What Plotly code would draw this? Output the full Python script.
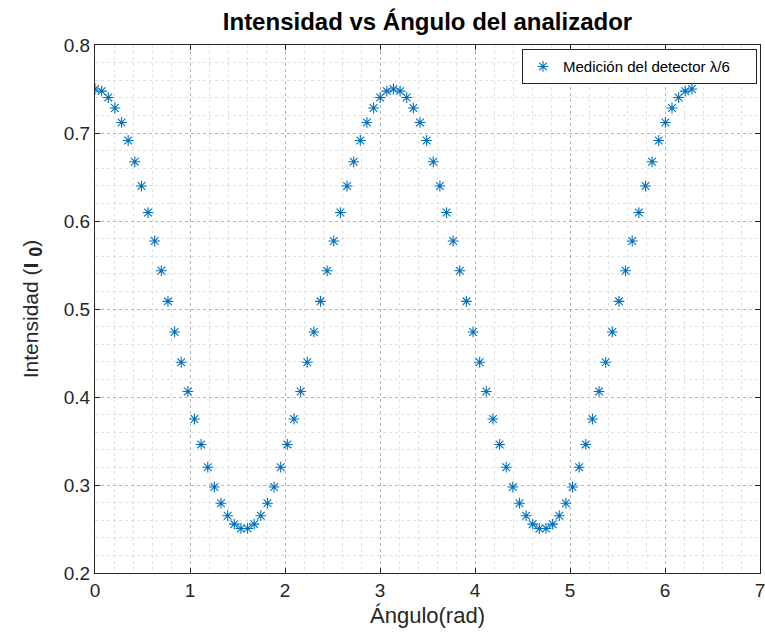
import plotly.graph_objects as go

# Analyzer angle (rad) and measured intensity (I0)
angulo = [0.0, 0.0698, 0.1396, 0.2094, 0.2793, 0.3491, 0.4189, 0.4887, 0.5585, 0.6283,
          0.6981, 0.7679, 0.8378, 0.9076, 0.9774, 1.0472, 1.1170, 1.1868, 1.2566, 1.3265,
          1.3963, 1.4661, 1.5359, 1.6057, 1.6755, 1.7453, 1.8151, 1.8850, 1.9548, 2.0246,
          2.0944, 2.1642, 2.2340, 2.3038, 2.3736, 2.4435, 2.5133, 2.5831, 2.6529, 2.7227,
          2.7925, 2.8623, 2.9322, 3.0020, 3.0718, 3.1416, 3.2114, 3.2812, 3.3510, 3.4208,
          3.4907, 3.5605, 3.6303, 3.7001, 3.7699, 3.8397, 3.9095, 3.9794, 4.0492, 4.1190,
          4.1888, 4.2586, 4.3284, 4.3982, 4.4680, 4.5379, 4.6077, 4.6775, 4.7473, 4.8171,
          4.8869, 4.9567, 5.0265, 5.0964, 5.1662, 5.2360, 5.3058, 5.3756, 5.4454, 5.5152,
          5.5851, 5.6549, 5.7247, 5.7945, 5.8643, 5.9341, 6.0039, 6.0737, 6.1436, 6.2134,
          6.2832]

intensidad = [0.7500, 0.7476, 0.7403, 0.7284, 0.7120, 0.6915, 0.6673, 0.6398, 0.6096, 0.5773,
              0.5434, 0.5087, 0.4739, 0.4395, 0.4063, 0.3750, 0.3461, 0.3202, 0.2977, 0.2793,
              0.2651, 0.2555, 0.2506, 0.2506, 0.2555, 0.2651, 0.2793, 0.2977, 0.3202, 0.3461,
              0.3750, 0.4063, 0.4395, 0.4739, 0.5087, 0.5434, 0.5773, 0.6096, 0.6398, 0.6673,
              0.6915, 0.7120, 0.7284, 0.7403, 0.7476, 0.7500, 0.7476, 0.7403, 0.7284, 0.7120,
              0.6915, 0.6673, 0.6398, 0.6096, 0.5773, 0.5434, 0.5087, 0.4739, 0.4395, 0.4063,
              0.3750, 0.3461, 0.3202, 0.2977, 0.2793, 0.2651, 0.2555, 0.2506, 0.2506, 0.2555,
              0.2651, 0.2793, 0.2977, 0.3202, 0.3461, 0.3750, 0.4063, 0.4395, 0.4739, 0.5087,
              0.5434, 0.5773, 0.6096, 0.6398, 0.6673, 0.6915, 0.7120, 0.7284, 0.7403, 0.7476,
              0.7500]

x_ticks = [0, 1, 2, 3, 4, 5, 6, 7]
y_ticks = [0.2, 0.3, 0.4, 0.5, 0.6, 0.7, 0.8]

FONT = "Liberation Sans, Arial, Helvetica, sans-serif"
AX = "#262626"

fig = go.Figure()
fig.add_trace(go.Scatter(
    x=angulo, y=intensidad, mode="markers",
    name="Medición del detector λ/6\u00a0\u00a0\u00a0\u00a0\u00a0",
    marker=dict(symbol="asterisk-open", size=9, color="#0072BD",
                line=dict(color="#0072BD", width=1.1)),
))

axis_common = dict(
    showline=True, linecolor=AX, linewidth=1, mirror="ticks",
    ticks="inside", ticklen=5, tickcolor=AX, tickwidth=1,
    showgrid=True, gridcolor="rgba(140,140,140,0.5)", griddash="dot", gridwidth=1,
    zeroline=False,
    tickfont=dict(family=FONT, size=19, color=AX),
    ticklabeloverflow="allow",
)

fig.update_xaxes(
    range=[0, 7], tickvals=x_ticks, ticktext=[str(v) for v in x_ticks],
    minor=dict(dtick=0.2, showgrid=True, gridcolor="rgba(170,170,170,0.35)",
               griddash="dot", gridwidth=1, ticks=""),
    title=dict(text="Ángulo(rad)", font=dict(family=FONT, size=22, color=AX), standoff=7),
    **axis_common,
)
fig.update_yaxes(
    range=[0.2, 0.8], tickvals=y_ticks, ticktext=[f"{v:.1f}" for v in y_ticks],
    minor=dict(dtick=0.02, showgrid=True, gridcolor="rgba(170,170,170,0.35)",
               griddash="dot", gridwidth=1, ticks=""),
    title=dict(text="Intensidad (<b>I</b> <sub><b><span style='font-size:18px'>0</span></b></sub>)",
               font=dict(family=FONT, size=21, color=AX), standoff=19),
    **axis_common,
)

fig.update_layout(
    width=765, height=636,
    margin=dict(l=95, r=0, t=45, b=63),
    paper_bgcolor="white", plot_bgcolor="white",
    title=dict(text="<b>Intensidad vs Ángulo del analizador</b>",
               font=dict(family=FONT, size=24, color="black"),
               x=0.5, xref="paper", xanchor="center",
               y=1 - 22 / 636, yref="container", yanchor="middle"),
    showlegend=True,
    legend=dict(x=0.9955, y=0.992, xanchor="right", yanchor="top",
                bgcolor="white", bordercolor=AX, borderwidth=1,
                font=dict(family=FONT, size=15, color="black"),
                itemwidth=30, tracegroupgap=0),
    font=dict(family=FONT),
)

fig.write_html("out.html")
